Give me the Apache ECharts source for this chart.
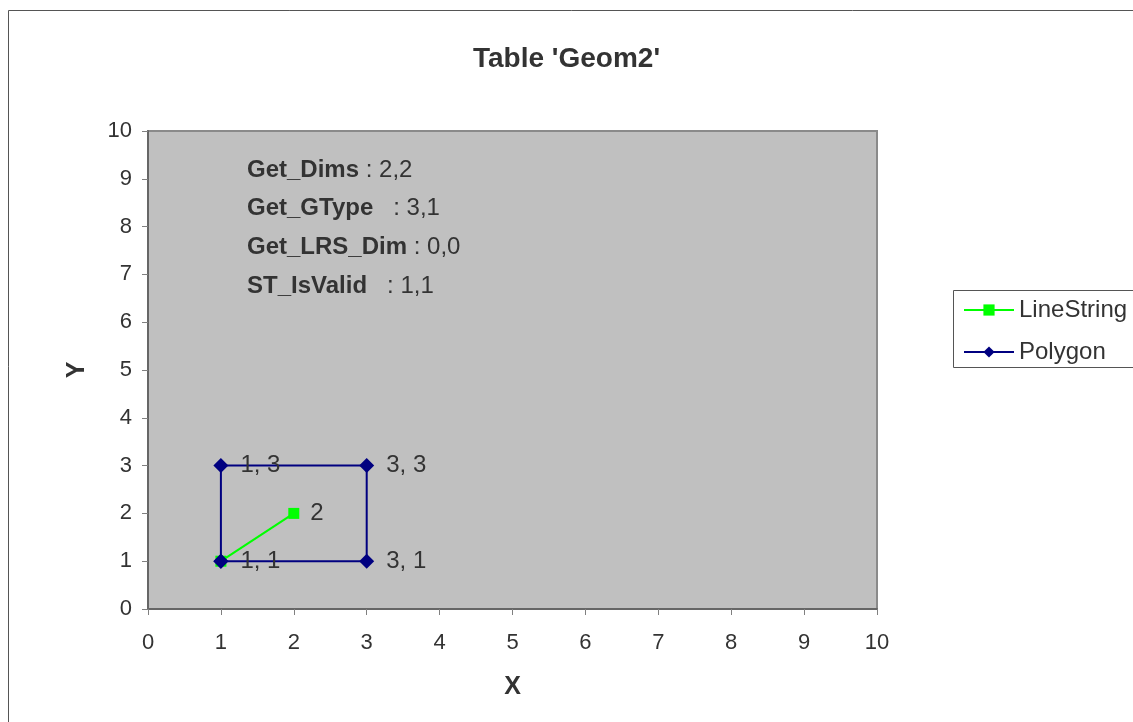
<!DOCTYPE html>
<html>
<head>
<meta charset="utf-8">
<script src="https://cdn.jsdelivr.net/npm/echarts@6/dist/echarts.min.js"></script>
<style>
  html, body { margin: 0; padding: 0; background: #fff; }
  #chart { width: 1133px; height: 722px; }
</style>
</head>
<body>
<div id="chart"></div>
<script>
// Geometry vertices
const lineStringX = [1, 2];
const lineStringY = [1, 2];
const lineStringLabels = ['', '2'];

const polygonX = [1, 1, 3, 3, 1];
const polygonY = [1, 3, 3, 1, 1];
const polygonLabels = ['1, 1', '1, 3', '3, 3', '3, 1', ''];

// Axis ticks
const axisTicks = [0, 1, 2, 3, 4, 5, 6, 7, 8, 9, 10];

// Geometry check results
const infoNames = ['Get_Dims', 'Get_GType', 'Get_LRS_Dim', 'ST_IsValid'];
const infoValues = [' : 2,2', '   : 3,1', ' : 0,0', '   : 1,1'];

const FONT = '"Liberation Sans", Arial, sans-serif';
const TEXT = '#333333';

function points(xs, ys, labels) {
  return xs.map((x, i) => ({ value: [x, ys[i]], label: { show: !!labels[i], formatter: labels[i] } }));
}

const chart = echarts.init(document.getElementById('chart'), null, { renderer: 'canvas' });

const infoGraphics = infoNames.map((name, i) => ({
  type: 'text',
  x: 247,
  y: 170 + i * 38.7,
  z: 100,
  style: {
    text: '{b|' + name + '}{n|' + infoValues[i] + '}',
    verticalAlign: 'middle',
    rich: {
      b: { fontFamily: FONT, fontSize: 24, fontWeight: 'bold', fill: TEXT },
      n: { fontFamily: FONT, fontSize: 24, fill: TEXT }
    }
  }
}));

chart.setOption({
  animation: false,
  backgroundColor: '#ffffff',
  title: {
    text: "Table 'Geom2'",
    left: 'center',
    top: 40,
    textStyle: { fontFamily: FONT, fontSize: 28, fontWeight: 'bold', color: TEXT }
  },
  grid: {
    left: 148, top: 131, right: 256, bottom: 113,
    show: true,
    backgroundColor: '#c0c0c0',
    borderColor: '#8a8a8a',
    borderWidth: 2
  },
  legend: {
    orient: 'vertical',
    left: 958,
    top: 293,
    itemWidth: 50,
    itemHeight: 14,
    itemGap: 18,
    data: ['LineString', 'Polygon'],
    textStyle: { fontFamily: FONT, fontSize: 24, color: TEXT }
  },
  xAxis: {
    type: 'value',
    min: axisTicks[0],
    max: axisTicks[axisTicks.length - 1],
    interval: 1,
    name: 'X',
    nameLocation: 'middle',
    nameGap: 66,
    nameTextStyle: { fontFamily: FONT, fontSize: 25, fontWeight: 'bold', color: TEXT },
    axisLine: { show: true, lineStyle: { color: '#666666', width: 2 } },
    axisTick: { show: true, length: 6, lineStyle: { color: '#808080' } },
    axisLabel: { fontFamily: FONT, fontSize: 22, color: TEXT, margin: 23 },
    splitLine: { show: false }
  },
  yAxis: {
    type: 'value',
    min: axisTicks[0],
    max: axisTicks[axisTicks.length - 1],
    interval: 1,
    name: 'Y',
    nameLocation: 'middle',
    nameGap: 58,
    nameRotate: 90,
    nameTextStyle: { fontFamily: FONT, fontSize: 25, fontWeight: 'bold', color: TEXT },
    axisLine: { show: true, lineStyle: { color: '#666666', width: 2 } },
    axisTick: { show: true, length: 6, lineStyle: { color: '#808080' } },
    axisLabel: { fontFamily: FONT, fontSize: 22, color: TEXT, margin: 16 },
    splitLine: { show: false }
  },
  series: [
    {
      name: 'LineString',
      type: 'line',
      data: points(lineStringX, lineStringY, lineStringLabels),
      symbol: 'rect',
      symbolSize: 11,
      itemStyle: { color: '#00ff00' },
      lineStyle: { color: '#00ff00', width: 2 },
      label: { position: 'right', distance: 11, fontFamily: FONT, fontSize: 24, color: TEXT },
      z: 2
    },
    {
      name: 'Polygon',
      type: 'line',
      data: points(polygonX, polygonY, polygonLabels),
      symbol: 'diamond',
      symbolSize: 15,
      itemStyle: { color: '#000080' },
      lineStyle: { color: '#000080', width: 2 },
      label: { position: 'right', distance: 12, fontFamily: FONT, fontSize: 24, color: TEXT },
      z: 3
    }
  ],
  graphic: [
    {
      type: 'rect',
      silent: true,
      z: -10,
      shape: { x: 8.5, y: 10.5, width: 1300, height: 900 },
      style: { fill: 'none', stroke: '#555555', lineWidth: 1 }
    },
    {
      type: 'rect',
      silent: true,
      z: -5,
      shape: { x: 953.5, y: 290.5, width: 300, height: 77 },
      style: { fill: '#ffffff', stroke: '#555555', lineWidth: 1 }
    }
  ].concat(infoGraphics)
});
</script>
</body>
</html>
